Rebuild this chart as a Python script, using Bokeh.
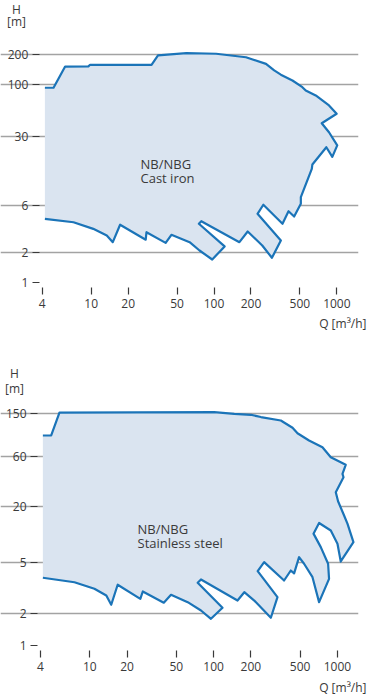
from bokeh.plotting import figure
from bokeh.models import Range1d, FixedTicker, Label, NumeralTickFormatter, Title
from bokeh.layouts import column
from bokeh.embed import file_html
from bokeh.resources import INLINE

# ---------------- data ----------------
x_ticks = [4, 10, 20, 50, 100, 200, 500, 1000]

# Chart 1: NB/NBG cast iron
y_ticks_cast = [1, 2, 6, 30, 100, 200]
y_grid_cast = [2, 6, 30, 100, 200]
q_cast = [4.2, 4.94, 6.14, 9.49, 9.8, 31.0, 35.0, 59.5, 104, 182, 265, 309, 350, 435, 524,
          558, 673, 863, 996, 753, 863, 1007, 918, 821, 632, 625, 509, 509, 449, 404,
          361, 252, 226, 350, 296, 247, 188, 161, 78.8, 75.3, 122, 96.7, 76.2, 63.3,
          45.0, 40.4, 28.2, 27.8, 17.2, 15.0, 13.4, 10.4, 7.18, 4.2]
h_cast = [92.9, 92.9, 152, 153, 158.5, 158.5, 197, 208, 205, 189, 162, 139, 126, 110, 94.2,
          87.1, 77.6, 61.5, 50.7, 40.7, 33.0, 24.3, 18.6, 23.3, 15.6, 14.1, 7.29, 6.25, 4.65, 5.26,
          3.93, 6.11, 4.95, 2.66, 1.78, 2.37, 3.28, 2.56, 4.17, 3.93, 2.32, 1.71, 2.11, 2.56,
          3.04, 2.52, 3.23, 2.71, 3.84, 2.56, 2.99, 3.49, 4.07, 4.41]

# Chart 2: NB/NBG stainless steel
y_ticks_ss = [1, 2, 6, 20, 60, 150]
y_grid_ss = [2, 6, 20, 60, 150]
y_label_override_ss = {6: "5"}
q_ss = [4.18, 4.88, 5.69, 101, 147, 200, 241, 349, 434, 476, 590, 757, 884, 1167,
        1099, 1120, 970, 1012, 1132, 1205, 1347, 1064, 1001, 884, 711, 641, 734, 841,
        856, 711, 629, 538, 490, 447, 420, 371, 256, 227, 328, 290, 213, 177, 156,
        79.1, 74.4, 118, 95.2, 79.1, 61.8, 45.3, 39.6, 26.8, 25.6, 16.8, 14.9, 13.6,
        10.9, 7.52, 4.18]
h_ss = [93.9, 93.9, 154, 156, 150, 147, 140, 130, 111, 98.6, 84.3, 72.9, 58.7, 49.8,
        40.9, 38.0, 27.5, 22.6, 16.6, 13.9, 9.31, 6.13, 9.0, 12.0, 14.1, 11.2, 8.36, 5.83,
        4.21, 2.54, 4.36, 5.83, 6.73, 4.73, 5.04, 4.06, 6.04, 4.97, 2.83, 1.81, 2.63, 3.15, 2.63,
        4.15, 3.86, 2.25, 1.77, 2.12, 2.54, 2.98, 2.51, 3.20, 2.73, 3.70, 2.40, 2.93,
        3.39, 3.91, 4.31]

LINE = "#1b74b8"
FILL = "#dae4f0"
GRID = "#a3a3a3"
TEXT = "#3a3a3a"
FONT = "Open Sans"


def make_chart(q, h, yticks, ygrid, overrides, xr, yr, height, br, bb,
               h_pos, name_lines, name_pos, q_standoff):
    p = figure(width=377, height=height, x_axis_type="log", y_axis_type="log",
               x_range=Range1d(*xr), y_range=Range1d(*yr),
               output_backend="svg", toolbar_location=None,
               min_border_left=0, min_border_right=br, min_border_top=0, min_border_bottom=bb)
    p.outline_line_color = None
    p.background_fill_color = "white"
    p.border_fill_color = "white"
    p.title.visible = False

    p.patch(q, h, fill_color=FILL, line_color=None)
    p.line(q, h, line_color=LINE, line_width=2.2, line_join="round")

    # x axis
    xa = p.xaxis[0]
    xa.ticker = FixedTicker(ticks=x_ticks)
    xa.formatter = NumeralTickFormatter(format="0")
    xa.axis_line_color = None
    xa.major_tick_in = 0
    xa.major_tick_out = 7
    xa.major_tick_line_color = TEXT
    xa.major_tick_line_width = 1.2
    xa.minor_tick_line_color = None
    xa.major_label_standoff = 4
    xa.major_label_text_font = FONT
    xa.major_label_text_font_size = "12px"
    xa.major_label_text_color = TEXT

    # y axis, pinned at the first flow tick
    ya = p.yaxis[0]
    ya.fixed_location = x_ticks[0]
    ya.ticker = FixedTicker(ticks=yticks)
    ya.formatter = NumeralTickFormatter(format="0")
    ya.major_label_overrides = overrides
    ya.axis_line_color = None
    ya.major_tick_in = -3
    ya.major_tick_out = 10
    ya.major_tick_line_color = TEXT
    ya.major_tick_line_width = 1.2
    ya.minor_tick_line_color = None
    ya.major_label_standoff = 4
    ya.major_label_text_font = FONT
    ya.major_label_text_font_size = "12px"
    ya.major_label_text_color = TEXT

    p.xgrid.visible = False
    p.ygrid.ticker = FixedTicker(ticks=ygrid)
    p.ygrid.bounds = (x_ticks[0], xr[1])
    p.ygrid.grid_line_color = GRID
    p.ygrid.grid_line_width = 1.3
    p.ygrid.minor_grid_line_color = None

    # Q label below the x axis, right aligned
    p.add_layout(Title(text="Q [m³/h]", align="right", offset=-8, standoff=q_standoff,
                       text_font=FONT, text_color=TEXT, text_font_style="normal",
                       text_font_size="12px"), "below")

    common = dict(x_units="screen", y_units="screen", text_font=FONT,
                  text_color=TEXT, text_baseline="middle")
    # H [m]
    p.add_layout(Label(x=h_pos[0], y=h_pos[1], text="H", text_align="center",
                       text_font_size="12px", **common))
    p.add_layout(Label(x=h_pos[0], y=h_pos[2], text="[m]", text_align="center",
                       text_font_size="12px", **common))
    # chart name
    for i, t in enumerate(name_lines):
        p.add_layout(Label(x=name_pos[0], y=name_pos[1] - 14.5 * i, text=t, text_align="left",
                           text_font_size="13px", **common))
    return p


p1 = make_chart(q_cast, h_cast, y_ticks_cast, y_grid_cast, {},
                (1.828, 1500), (0.892, 707), 340, 17, 53,
                (16, 278, 266), ["NB/NBG", "Cast iron"], (140, 124), 4)
p2 = make_chart(q_ss, h_ss, y_ticks_ss, y_grid_ss, y_label_override_ss,
                (1.901, 1480), (0.891, 735), 360, 19, 50,
                (14, 277, 262), ["NB/NBG", "Stainless steel"], (137, 122), 6)

layout = column(p1, p2, spacing=0)
open("out.html", "w").write(file_html(layout, INLINE))
